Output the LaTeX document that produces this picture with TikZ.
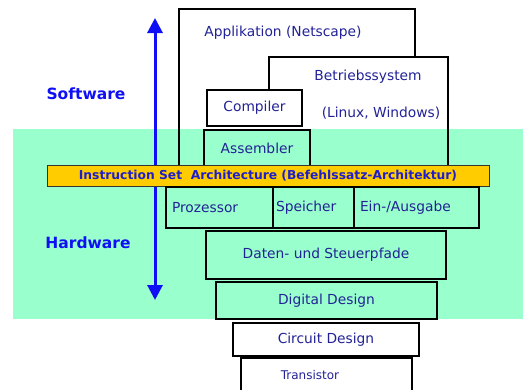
\documentclass[tikz,border=0pt]{standalone}
\usepackage{fontspec}
\setmainfont{DejaVu Sans}
\usepackage{xcolor}
\usepackage{tikz}
\usetikzlibrary{arrows.meta, positioning}

\definecolor{hwgreen}{RGB}{153,255,204}
\definecolor{isaorange}{RGB}{255,204,0}
\definecolor{layertext}{RGB}{34,34,150}
\definecolor{isatext}{RGB}{30,30,205}
\definecolor{sideblue}{RGB}{15,15,245}

\begin{document}
\begin{tikzpicture}[
          x=1pt, y=-1pt,
          every node/.style={font=\fontsize{13.8}{16}\selectfont, text=layertext},
          box/.style={draw, line width=1.8pt, inner sep=0pt, outer sep=0pt},
          cell/.style={box, fill=hwgreen, minimum height=41, align=left, inner xsep=6pt},
          outline/.style={line width=1.8pt},
          side/.style={font=\bfseries\fontsize{15.5}{18}\selectfont, text=sideblue}
        ]
          \path[use as bounding box, clip] (0,0) rectangle (528,389);
          % hardware band
          \fill[hwgreen] (13,129) rectangle (523,319);

          % software layers
          \draw[outline] (179,165) -- (179,9) -- (415,9) -- (415,57);
          \draw[outline] (269,90) -- (269,57) -- (448,57) -- (448,165);
          \node (app) at (283,33) {Applikation (Netscape)};
          \node (os) at (368,77) {Betriebssystem};
          \node (osex) at (381,113) {(Linux, Windows)};
          \node[box, fill=white, minimum width=95, minimum height=36] (comp) at (254.5,108) {Compiler};
          \node[box, fill=hwgreen, minimum width=106, minimum height=36] (asm) at (257,148) {Assembler};

          % software / hardware
          \coordinate (swtop) at (155,18);
          \coordinate (hwbot) at (155,300);
          \draw[sideblue, line width=3pt, {Triangle[length=15pt, width=15pt]}-{Triangle[length=15pt, width=15pt]}] (swtop) -- (hwbot);
          \node[side] (sw) at (86,94) {Software};
          \node[side] (hw) at (88,243) {Hardware};

          \node[draw=black!80, line width=0.9pt, fill=isaorange, minimum width=442, minimum height=21, inner sep=0pt,
                font=\bfseries\fontsize{12.3}{14}\selectfont, text=isatext] (isa) at (268,175.5)
                {Instruction Set\ \ Architecture (Befehlssatz-Architektur)};

          % hardware layers
          \node[cell, text width=95] (cpu) at (219.5,207.5) {Prozessor};
          \node[cell, text width=75, inner xsep=3pt, right=0pt of cpu] (mem) {Speicher};
          \node[cell, text width=113, right=0pt of mem] (io) {Ein-/Ausgabe};
          \node[box, fill=hwgreen, minimum width=240, minimum height=48] (path) at (326,255) {Daten- und Steuerpfade};
          \node[box, fill=hwgreen, minimum width=221, minimum height=37] (dd) at (326.5,300.5) {Digital Design};
          \node[box, fill=white, minimum width=186, minimum height=33] (cd) at (326,339.5) {Circuit Design};
          \node[box, fill=white, minimum width=171, minimum height=44] (tr) at (326.5,380) {};
          \node[font=\fontsize{12}{14}\selectfont] (trtext) at (310,375) {Transistor};
        \end{tikzpicture}
\end{document}
